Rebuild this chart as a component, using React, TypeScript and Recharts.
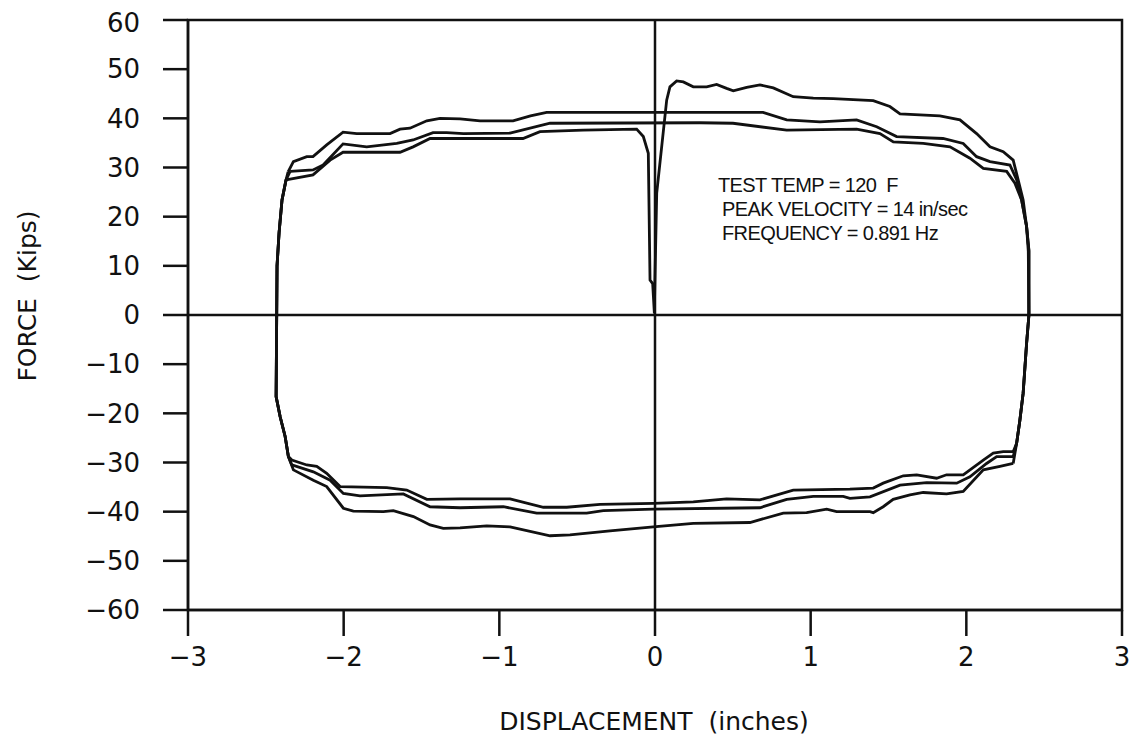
import React from 'react';
import { LineChart, Line, XAxis, YAxis, ReferenceLine, ReferenceArea } from 'recharts';

// displacement (in), force (kips), one array per half cycle
const upper1: [number, number][] = [
  [-0.004, 1.5], [0.011, 24.8], [0.075, 43.7], [0.096, 46.4], [0.139, 47.6], [0.182, 47.4],
  [0.246, 46.4], [0.332, 46.4], [0.396, 46.9], [0.46, 46.1], [0.503, 45.6], [0.589, 46.3],
  [0.674, 46.8], [0.76, 46.2], [0.888, 44.4], [1.017, 44.1], [1.145, 44.0], [1.402, 43.6],
  [1.509, 42.4], [1.574, 40.9], [1.83, 40.5], [1.959, 39.7], [2.066, 36.9], [2.152, 34.2],
  [2.237, 33.2], [2.301, 31.5], [2.333, 27.5], [2.365, 23.4], [2.387, 18], [2.398, 13],
  [2.402, 0], [2.387, -5.8], [2.365, -15.9], [2.344, -21.4], [2.323, -26.1], [2.301, -30.2],
];

const lower1: [number, number][] = [
  [2.301, -30.2], [2.216, -30.8], [2.109, -31.5], [1.98, -35.9], [1.873, -36.4], [1.723, -36.1],
  [1.638, -36.6], [1.53, -37.5], [1.466, -39.0], [1.402, -40.2], [1.381, -40], [1.167, -40],
  [1.103, -39.5], [0.974, -40.2], [0.824, -40.3], [0.61, -42.2], [0.246, -42.4], [-0.011, -43.1],
  [-0.289, -43.9], [-0.546, -44.7], [-0.674, -44.9], [-0.931, -43.1], [-1.081, -42.9],
  [-1.252, -43.3], [-1.36, -43.4], [-1.445, -42.7], [-1.552, -41], [-1.681, -39.8],
  [-1.745, -40], [-1.938, -39.9], [-2.002, -39.3], [-2.109, -34.9], [-2.195, -33.6],
  [-2.323, -31.5], [-2.355, -28.8], [-2.376, -24.7], [-2.408, -20.7], [-2.434, -16.6],
  [-2.43, 1], [-2.428, 10], [-2.415, 16.7], [-2.396, 23.4], [-2.37, 27.5], [-2.357, 29.1],
];

const upper2: [number, number][] = [
  [-2.357, 29.1], [-2.323, 31.2], [-2.237, 32.2], [-2.197, 32.2], [-2.109, 34.6], [-2.004, 37.2],
  [-1.916, 36.9], [-1.702, 36.9], [-1.638, 37.8], [-1.574, 38], [-1.466, 39.5], [-1.381, 40],
  [-1.252, 39.9], [-1.124, 39.5], [-0.912, 39.5], [-0.8, 40.5], [-0.696, 41.2], [0.694, 41.2],
  [0.846, 39.7], [1.06, 39.3], [1.295, 39.7], [1.424, 38.3], [1.552, 36.3], [1.85, 35.9],
  [1.98, 34.9], [2.066, 32.2], [2.152, 31.2], [2.28, 30.5], [2.323, 27.5], [2.355, 23.4],
  [2.387, 18], [2.402, 13.2], [2.402, 0], [2.387, -5.8], [2.365, -15.9], [2.344, -21.4],
  [2.323, -26.1], [2.301, -28.8],
];

const lower2: [number, number][] = [
  [2.301, -28.8], [2.195, -28.8], [2.13, -30.2], [2.023, -32.9], [1.938, -34.2], [1.745, -34.1],
  [1.574, -34.6], [1.381, -37], [1.252, -37.3], [1.209, -36.9], [1.017, -36.9], [0.846, -37.5],
  [0.674, -39.2], [-0.011, -39.5], [-0.332, -39.8], [-0.439, -40.3], [-0.76, -40.3],
  [-0.974, -39], [-1.252, -39.2], [-1.445, -39], [-1.617, -36.4], [-1.895, -36.8],
  [-2.002, -36.3], [-2.087, -33.6], [-2.195, -31.9], [-2.333, -30.5], [-2.355, -28.8],
  [-2.376, -24.7], [-2.408, -20.7], [-2.434, -16.6], [-2.43, 1], [-2.428, 10], [-2.415, 16.7],
  [-2.396, 23.4], [-2.37, 27.5], [-2.344, 29.2],
];

const upper3: [number, number][] = [
  [-2.344, 29.2], [-2.197, 29.5], [-2.132, 30.5], [-2.004, 34.8], [-1.852, 34.2], [-1.659, 34.9],
  [-1.554, 35.6], [-1.426, 37.1], [-1.338, 37.1], [-1.231, 36.9], [-0.931, 37], [-0.674, 39],
  [0.289, 39.1], [0.501, 39], [0.846, 37.6], [1.295, 37.8], [1.445, 36.9], [1.531, 35.2],
  [1.723, 34.9], [1.895, 34.2], [2.023, 31.9], [2.109, 29.8], [2.259, 29.2], [2.312, 26.8],
  [2.355, 23.4], [2.387, 18], [2.402, 13], [2.402, 0], [2.387, -5.8], [2.365, -15.9],
  [2.344, -21.4], [2.323, -26.1], [2.301, -27.8],
];

const lower3: [number, number][] = [
  [2.301, -27.8], [2.237, -27.8], [2.173, -28.1], [2.109, -29.5], [1.98, -32.5], [1.873, -32.5],
  [1.809, -33.2], [1.681, -32.5], [1.595, -32.7], [1.466, -34.2], [1.402, -35.2], [1.252, -35.4],
  [0.888, -35.6], [0.674, -37.6], [0.46, -37.4], [0.246, -38], [-0.011, -38.3], [-0.353, -38.5],
  [-0.567, -39.1], [-0.717, -39.1], [-0.931, -37.4], [-1.252, -37.4], [-1.466, -37.5],
  [-1.595, -35.6], [-1.723, -35.1], [-2.023, -34.9], [-2.109, -32.2], [-2.173, -30.8],
  [-2.237, -30.5], [-2.333, -29.5], [-2.355, -28.8], [-2.376, -24.7], [-2.408, -20.7],
  [-2.434, -16.6], [-2.43, 1], [-2.428, 10], [-2.415, 16.7], [-2.396, 23.4], [-2.37, 27.5],
];

const upper4: [number, number][] = [
  [-2.37, 27.5], [-2.197, 28.5], [-2.087, 31.5], [-2.004, 33.1], [-1.638, 33.1], [-1.554, 34.2],
  [-1.445, 35.9], [-0.848, 35.9], [-0.739, 37.3], [-0.462, 37.6], [-0.118, 37.8], [-0.075, 36.3],
  [-0.043, 32.9], [-0.032, 7.1], [-0.015, 6.4], [-0.004, 0.3],
];

const branches = [upper1, lower1, upper2, lower2, upper3, lower3, upper4];

const xTicks = [-3, -2, -1, 0, 1, 2, 3];
const yTicks = [-60, -50, -40, -30, -20, -10, 0, 10, 20, 30, 40, 50, 60];

const notes = ['TEST TEMP = 120  F', 'PEAK VELOCITY = 14 in/sec', 'FREQUENCY = 0.891 Hz'];

const ink = '#111';
const fmt = (v: number) => (v < 0 ? `\u2212${-v}` : `${v}`);
const tickFont = { fill: ink, fontSize: 26, fontFamily: 'DejaVu Sans' };

export default function App() {
  return (
    <div style={{ position: 'relative', width: 1130, height: 733 }}>
      <LineChart width={1130} height={733} margin={{ top: 12, right: 16, bottom: 0, left: 0 }}>
        <XAxis
          type="number"
          dataKey="x"
          domain={[-3, 3]}
          ticks={xTicks}
          allowDataOverflow
          tickFormatter={fmt}
          height={131}
          tickSize={26}
          tickMargin={12}
          stroke={ink}
          strokeWidth={2.5}
          tick={tickFont}
        />
        <YAxis
          type="number"
          dataKey="y"
          domain={[-60, 60]}
          ticks={yTicks}
          allowDataOverflow
          tickFormatter={fmt}
          width={180}
          tickSize={25}
          tickMargin={23}
          stroke={ink}
          strokeWidth={2.5}
          tick={tickFont}
        />
        <ReferenceArea x1={-3} x2={3} y1={-60} y2={60} fill="none" stroke={ink} strokeWidth={2.5} fillOpacity={0} />
        <ReferenceLine x={0} stroke={ink} strokeWidth={2.5} />
        <ReferenceLine y={0} stroke={ink} strokeWidth={2.5} />
        {branches.map((b, i) => (
          <Line
            key={i}
            data={b.map(([x, y]) => ({ x, y }))}
            dataKey="y"
            type="linear"
            stroke={ink}
            strokeWidth={2.8}
            dot={false}
            isAnimationActive={false}
          />
        ))}
      </LineChart>
      <svg width={1130} height={733} style={{ position: 'absolute', left: 0, top: 0, pointerEvents: 'none' }}>
        <text x={646} y={722} textAnchor="middle" fontSize={25} fontFamily="DejaVu Sans" fill={ink} style={{ whiteSpace: 'pre' }}>
          {'DISPLACEMENT  (inches)'}
        </text>
        <text
          x={19}
          y={288}
          textAnchor="middle"
          dominantBaseline="central"
          transform="rotate(-90 19 288)"
          fontSize={25}
          fontFamily="DejaVu Sans"
          fill={ink}
          style={{ whiteSpace: 'pre' }}
        >
          {'FORCE  (Kips)'}
        </text>
        {notes.map((t, i) => (
          <text
            key={t}
            x={i === 0 ? 710 : 714}
            y={184 + i * 24}
            fontSize={20}
            fontFamily="Liberation Sans, Arial"
            letterSpacing={-0.6}
            fill={ink}
            style={{ whiteSpace: 'pre' }}
          >
            {t}
          </text>
        ))}
      </svg>
    </div>
  );
}
